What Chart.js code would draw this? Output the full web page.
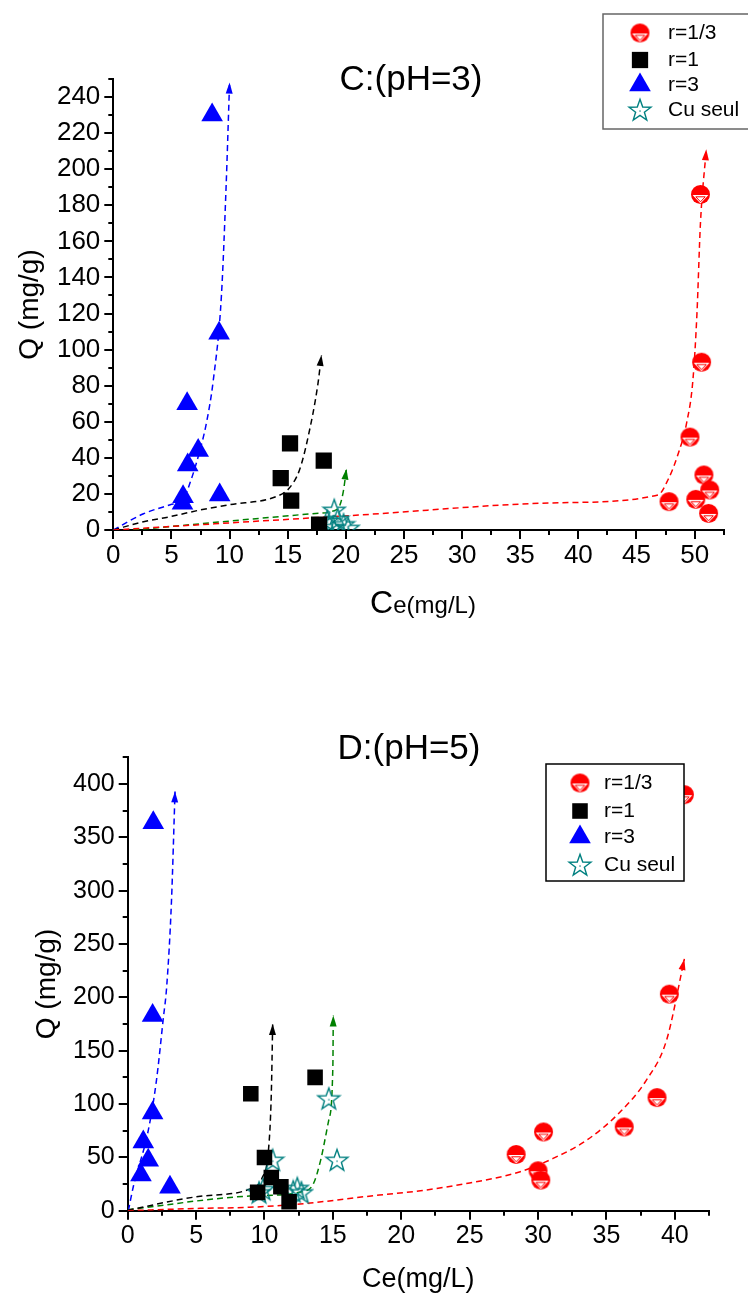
<!DOCTYPE html>
<html lang="fr">
<head>
  <meta charset="UTF-8" />
  <title>Isothermes C (pH=3) et D (pH=5)</title>
  <script src="https://cdn.jsdelivr.net/npm/chart.js"></script>
  <style>
    html, body { margin: 0; padding: 0; background: #fff; }
    .panel { position: absolute; left: 0; width: 748px; height: 650px; }
  </style>
</head>
<body>
  <div class="panel" style="top:0"><canvas id="chartC" width="748" height="650"></canvas></div>
  <div class="panel" style="top:650px"><canvas id="chartD" width="748" height="650"></canvas></div>

  <script>
    // ---- C : pH = 3 ----
    const cR13X = [47.8, 49.6, 50.1, 50.5, 50.6, 50.8, 51.2, 51.3];
    const cR13Q = [15.7, 51.5, 17.0, 186, 93, 30.5, 9.2, 22.2];
    const cR1X  = [14.4, 15.2, 15.3, 17.7, 18.1];
    const cR1Q  = [28.7, 48, 16.3, 3, 38.4];
    const cR3X  = [5.95, 6.0, 6.4, 6.35, 7.3, 8.5, 9.1, 9.15];
    const cR3Q  = [14.8, 18.5, 36, 70, 44, 230, 109, 19.4];
    const cCuX  = [18.4, 18.9, 19.0, 19.3, 19.8, 20.2];
    const cCuQ  = [5, 1.5, 11, 6, 3, 1];
    // dashed fitted curves
    const cFitR13X = [0, 21.1, 38.3, 46.85, 47.7, 48.6, 49.3, 49.85, 50.2, 50.5, 51.0];
    const cFitR13Q = [0, 8.3, 15.1, 19.4, 27.7, 42.5, 59, 83, 120, 170, 211];
    const cFitR1X  = [0, 2.6, 4.9, 7.4, 10, 14, 15.1, 16, 16.7, 17.6, 17.9];
    const cFitR1Q  = [0, 4.6, 7.4, 11, 14, 18.5, 23, 33, 50, 81, 97];
    const cFitR3X  = [0, 2.6, 4.9, 6.0, 6.7, 7.4, 8.0, 8.6, 9.3, 9.7, 10.0];
    const cFitR3Q  = [0, 9, 14, 17, 28, 43, 59, 83, 130, 190, 248];
    const cFitCuX  = [0, 17.4, 18.9, 19.5, 19.8, 20.05];
    const cFitCuQ  = [-1, 9.2, 10.5, 14, 22, 34];

    // ---- D : pH = 5 ----
    const dR13X = [28.4, 30.0, 30.2, 30.4, 36.3, 38.7, 39.6, 40.7];
    const dR13Q = [52.7, 37.4, 28.7, 73.8, 78.5, 106, 203, 390];
    const dR1X  = [9.0, 9.5, 10.0, 10.5, 11.2, 11.8, 13.7];
    const dR1Q  = [109.7, 17.2, 49.9, 31.2, 22.4, 8.4, 125];
    const dR3X  = [0.97, 1.14, 1.5, 1.82, 1.82, 1.87, 3.09];
    const dR3Q  = [33.4, 64.5, 47.4, 91.6, 183, 363.6, 21.9];
    const dCuX  = [9.6, 9.9, 10.6, 12.1, 12.4, 12.7, 14.7, 15.3];
    const dCuQ  = [17, 20, 47.4, 18, 21, 17, 105, 47.4];
    const dFitR13X = [0, 5.3, 8.9, 12.6, 18.4, 21.4, 25, 28.7, 31.1, 33.55, 36, 37.9, 39.4, 40.7];
    const dFitR13Q = [0, 2.2, 3.2, 6.3, 14.7, 18.7, 26, 36.5, 49, 66, 92.5, 122, 160, 236];
    const dFitR1X  = [0, 5.3, 9.4, 9.8, 10.3, 10.5, 10.6];
    const dFitR1Q  = [0.5, 13.5, 23, 30, 58, 110, 175];
    const dFitR3X  = [0.05, 0.4, 1.5, 2.1, 2.6, 2.85, 3.2, 3.46];
    const dFitR3Q  = [0, 22, 75, 122, 180, 210, 290, 393];
    const dFitCuX  = [0, 8.9, 13.1, 13.6, 14.1, 14.7, 15.0, 15.03];
    const dFitCuQ  = [1, 13.7, 19, 26, 47, 85, 135, 183];

    const seriesNames = ['r=1/3', 'r=1', 'r=3', 'Cu seul'];

    const FONT = "'Liberation Sans', Arial, sans-serif";
    const RED = '#ff0000', BLUE = '#0000ff', TEAL = '#008080', GREEN = '#008000';

    const pts = (xs, ys) => xs.map((x, i) => ({ x: x, y: ys[i] }));

    // red circle, lower half with white down triangle
    function circleMarker() {
      const c = document.createElement('canvas');
      c.width = 21; c.height = 21;
      const g = c.getContext('2d');
      g.fillStyle = RED;
      g.beginPath(); g.arc(10.5, 10.5, 9.5, 0, Math.PI * 2); g.fill();
      g.fillStyle = '#fff';
      g.beginPath(); g.moveTo(2.6, 11); g.lineTo(18.4, 11); g.lineTo(10.5, 19.5); g.closePath(); g.fill();
      g.strokeStyle = RED; g.lineWidth = 1;
      g.beginPath(); g.moveTo(5.8, 12.8); g.lineTo(15.2, 12.8); g.lineTo(10.5, 17.8); g.closePath(); g.stroke();
      return c;
    }

    // open teal five-point star
    function starMarker() {
      const c = document.createElement('canvas');
      c.width = 26; c.height = 26;
      const g = c.getContext('2d');
      g.strokeStyle = TEAL; g.lineWidth = 1.4;
      g.beginPath();
      for (let i = 0; i < 10; i++) {
        const r = i % 2 ? 4.6 : 11.5;
        const a = -Math.PI / 2 + i * Math.PI / 5;
        const px = 13 + r * Math.cos(a), py = 13.8 + r * Math.sin(a);
        if (i) g.lineTo(px, py); else g.moveTo(px, py);
      }
      g.closePath(); g.stroke();
      g.fillStyle = TEAL; g.fillRect(12.4, 13.4, 1.3, 1.3);
      return c;
    }

    const circleImg = circleMarker();
    const starImg = starMarker();

    function markers(label, data, style, color, radius) {
      return {
        label: label, data: data, pointStyle: style, pointRadius: radius,
        pointBackgroundColor: color, pointBorderColor: color, pointBorderWidth: 0,
        showLine: false, order: 1
      };
    }

    function fit(data, color) {
      return {
        label: '', data: data, showLine: true, arrow: true,
        borderColor: color, borderWidth: 1.5, borderDash: [6, 4],
        pointRadius: 0, fill: false, cubicInterpolationMode: 'monotone', order: 2
      };
    }

    function drawMarker(ctx, d, x, y) {
      const s = d.pointStyle, r = d.pointRadius;
      ctx.fillStyle = d.pointBackgroundColor;
      if (s instanceof HTMLCanvasElement) {
        ctx.drawImage(s, x - s.width / 2, y - s.height / 2);
      } else if (s === 'rect') {
        const h = r * Math.SQRT1_2;
        ctx.fillRect(x - h, y - h, 2 * h, 2 * h);
      } else if (s === 'triangle') {
        ctx.beginPath();
        for (let k = 0; k < 3; k++) {
          const a = k * 2 * Math.PI / 3;
          ctx.lineTo(x + Math.sin(a) * r, y - Math.cos(a) * r);
        }
        ctx.closePath(); ctx.fill();
      }
    }

    const deco = {
      id: 'deco',
      afterDatasetsDraw(chart) {
        const ctx = chart.ctx;
        chart.data.datasets.forEach((ds, i) => {
          if (!ds.arrow) return;
          const el = chart.getDatasetMeta(i).data;
          const a = el[el.length - 2], b = el[el.length - 1];
          const ang = Math.atan2(b.y - a.y, b.x - a.x);
          ctx.save();
          ctx.translate(b.x, b.y); ctx.rotate(ang);
          ctx.fillStyle = ds.borderColor;
          ctx.beginPath(); ctx.moveTo(0, 0); ctx.lineTo(-11, -3.5); ctx.lineTo(-11, 3.5); ctx.closePath(); ctx.fill();
          ctx.restore();
        });
      },
      afterDraw(chart, args, o) {
        const ctx = chart.ctx;
        const sx = chart.scales.x, sy = chart.scales.y;
        ctx.save();
        // minor ticks
        ctx.strokeStyle = '#000'; ctx.lineWidth = 2;
        ctx.beginPath();
        for (let v = o.xStep / 2; v <= sx.max + 1e-9; v += o.xStep) {
          const px = Math.round(sx.getPixelForValue(v));
          ctx.moveTo(px, sx.top); ctx.lineTo(px, sx.top + 5);
        }
        for (let v = o.yStep / 2; v <= sy.max + 1e-9; v += o.yStep) {
          const py = Math.round(sy.getPixelForValue(v));
          ctx.moveTo(sy.right - 5, py); ctx.lineTo(sy.right, py);
        }
        ctx.stroke();

        // title
        ctx.fillStyle = '#000';
        ctx.font = '35px ' + FONT;
        ctx.textAlign = 'center'; ctx.textBaseline = 'alphabetic';
        ctx.fillText(o.title, o.titleX, o.titleY);

        // x title with large C (top panel)
        if (o.xTitle) {
          ctx.font = '32px ' + FONT;
          const w1 = ctx.measureText('C').width;
          ctx.font = '24px ' + FONT;
          const w2 = ctx.measureText('e(mg/L)').width;
          const x0 = o.xTitle.x - (w1 + w2) / 2;
          ctx.textAlign = 'left';
          ctx.font = '32px ' + FONT; ctx.fillText('C', x0, o.xTitle.y);
          ctx.font = '24px ' + FONT; ctx.fillText('e(mg/L)', x0 + w1, o.xTitle.y);
        }

        // legend
        const L = o.legend;
        ctx.fillStyle = '#fff'; ctx.fillRect(L.x, L.y, L.w, L.h);
        ctx.strokeStyle = L.border; ctx.lineWidth = 1.5; ctx.strokeRect(L.x, L.y, L.w, L.h);
        chart.data.datasets.filter(d => !d.arrow).forEach((d, k) => {
          const cy = L.rows[k];
          drawMarker(ctx, d, L.mx, cy);
          ctx.fillStyle = '#000';
          ctx.font = L.size + 'px ' + FONT;
          ctx.textAlign = 'left'; ctx.textBaseline = 'middle';
          ctx.fillText(d.label, L.tx, cy);
        });
        ctx.restore();
      }
    };

    function axisOptions(c) {
      const tickFont = { family: FONT, size: c.tickSize };
      const grid = { display: true, drawOnChartArea: false, drawTicks: true, tickLength: 9, color: '#000', lineWidth: 2 };
      const x = {
        type: 'linear', min: 0, max: c.xMax,
        border: { display: true, color: '#000', width: 2 },
        grid: grid,
        ticks: { stepSize: c.xStep, includeBounds: false, autoSkip: false, maxRotation: 0, color: '#000', font: tickFont, padding: 1 },
        title: c.xTitleText
          ? { display: true, text: c.xTitleText, color: '#000', font: { family: FONT, size: 27 }, padding: { top: 0, bottom: c.xTitlePad } }
          : { display: false },
        afterFit: s => { s.height = c.xAxisH; }
      };
      const y = {
        type: 'linear', min: 0, max: c.yMax,
        border: { display: true, color: '#000', width: 2 },
        grid: grid,
        ticks: { stepSize: c.yStep, includeBounds: false, autoSkip: false, color: '#000', font: tickFont, padding: 4 },
        title: { display: true, text: 'Q (mg/g)', color: '#000', font: { family: FONT, size: 28 }, padding: { top: c.yTitlePad, bottom: 0 } },
        afterFit: s => { s.width = c.yAxisW; }
      };
      return { x: x, y: y };
    }

    new Chart(document.getElementById('chartC'), {
      type: 'scatter',
      data: {
        datasets: [
          markers(seriesNames[0], pts(cR13X, cR13Q), circleImg, RED, 9.5),
          markers(seriesNames[1], pts(cR1X, cR1Q), 'rect', '#000', 11.5),
          markers(seriesNames[2], pts(cR3X, cR3Q), 'triangle', BLUE, 12.5),
          markers(seriesNames[3], pts(cCuX, cCuQ), starImg, TEAL, 11),
          fit(pts(cFitR13X, cFitR13Q), RED),
          fit(pts(cFitR1X, cFitR1Q), '#000'),
          fit(pts(cFitR3X, cFitR3Q), BLUE),
          fit(pts(cFitCuX, cFitCuQ), GREEN)
        ]
      },
      options: {
        responsive: false, animation: false,
        layout: { padding: { top: 79, right: 24.3, left: 0, bottom: 0 } },
        plugins: {
          legend: { display: false }, tooltip: { enabled: false },
          deco: {
            title: 'C:(pH=3)', titleX: 411, titleY: 90,
            xStep: 5, yStep: 20,
            xTitle: { x: 423, y: 613 },
            legend: { x: 603, y: 14, w: 160, h: 115, border: '#666', mx: 640, tx: 668, size: 21, rows: [33, 60, 85, 110] }
          }
        },
        scales: axisOptions({ xMax: 52.5, xStep: 5, yMax: 250, yStep: 20, tickSize: 26, xAxisH: 120, yAxisW: 113.3, yTitlePad: 13 })
      },
      plugins: [deco]
    });

    new Chart(document.getElementById('chartD'), {
      type: 'scatter',
      data: {
        datasets: [
          markers(seriesNames[0], pts(dR13X, dR13Q), circleImg, RED, 9.5),
          markers(seriesNames[1], pts(dR1X, dR1Q), 'rect', '#000', 11),
          markers(seriesNames[2], pts(dR3X, dR3Q), 'triangle', BLUE, 12.5),
          markers(seriesNames[3], pts(dCuX, dCuQ), starImg, TEAL, 11),
          fit(pts(dFitR13X, dFitR13Q), RED),
          fit(pts(dFitR1X, dFitR1Q), '#000'),
          fit(pts(dFitR3X, dFitR3Q), BLUE),
          fit(pts(dFitCuX, dFitCuQ), GREEN)
        ]
      },
      options: {
        responsive: false, animation: false,
        layout: { padding: { top: 107.3, right: 39, left: 0, bottom: 0 } },
        plugins: {
          legend: { display: false }, tooltip: { enabled: false },
          deco: {
            title: 'D:(pH=5)', titleX: 409, titleY: 109,
            xStep: 5, yStep: 50,
            legend: { x: 546, y: 114, w: 138, h: 117, border: '#000', mx: 580, tx: 604, size: 21, rows: [133, 161, 187, 215] }
          }
        },
        scales: axisOptions({ xMax: 42.5, xStep: 5, yMax: 425, yStep: 50, tickSize: 25, xAxisH: 89.3, yAxisW: 127.7, yTitlePad: 30, xTitleText: 'Ce(mg/L)', xTitlePad: 4 })
      },
      plugins: [deco]
    });
  </script>
</body>
</html>
